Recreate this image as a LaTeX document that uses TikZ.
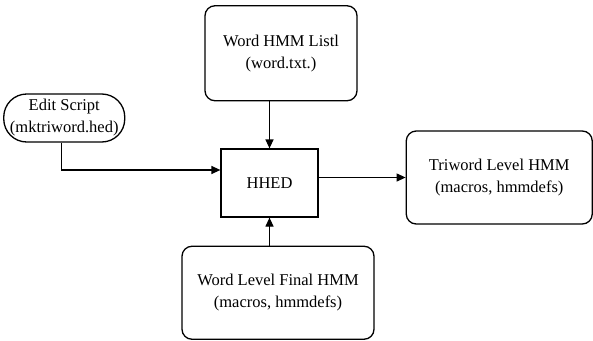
\documentclass[tikz,border=0pt]{standalone}
\usepackage{fontspec}
\setmainfont{Liberation Serif}
\usepackage{tikz}
\usetikzlibrary{arrows.meta}
\usetikzlibrary{positioning}

\tikzset{
	box/.style={draw, line width=1.3pt, rounded corners=10pt, align=center,
		font=\fontsize{16.5}{22}\selectfont, inner sep=0pt},
	flow/.style={-{Triangle[length=9pt,width=8pt]}, line width=1.2pt}
}

\begin{document}
\begin{tikzpicture}
	         \fill[white] (0pt,0pt) rectangle (593pt,-340pt);
	         \useasboundingbox (0pt,0pt) rectangle (593pt,-340pt);
	         \node[box, rounded corners=0pt, line width=1.2pt, minimum width=97pt, minimum height=68pt] (hhed) at (269.5pt,-183pt) {HHED};
	         \node[box, minimum width=152pt, minimum height=95pt] (list) [above=47pt of hhed, xshift=11.5pt]{Word HMM Listl\\(word.txt.)};
	         \node[box, minimum width=192pt, minimum height=93pt] (final) [below=28pt of hhed, xshift=8.5pt]{Word Level Final HMM\\(macros, hmmdefs)};
	         \node[box, minimum width=186pt, minimum height=93pt] (tri) [right=87pt of hhed, yshift=5.5pt]{Triword Level HMM\\(macros, hmmdefs)};
	         \node[box, rounded corners=23pt, minimum width=121pt, minimum height=48pt] (edit) [left=95pt of hhed, yshift=65pt]{Edit Script\\(mktriword.hed)};
	         \draw[flow] (hhed.north |- list.south) -- (hhed.north);
	         \draw[flow] (hhed.south |- final.north) -- (hhed.south);
	         \draw[flow] ([xshift=-3pt]edit.south) |- ([yshift=13pt]hhed.west);
	         \draw[flow] (hhed.east |- tri) -- (tri);
	     \end{tikzpicture}
\end{document}
